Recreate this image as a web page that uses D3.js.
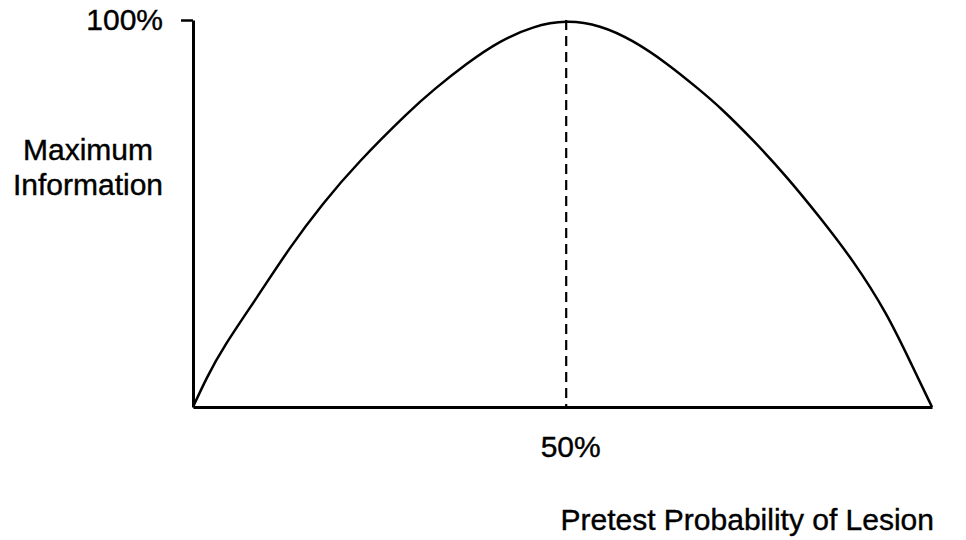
<!DOCTYPE html>
<html>
<head>
<meta charset="utf-8">
<script src="https://cdn.jsdelivr.net/npm/d3@7"></script>
<style>
  html, body { margin: 0; padding: 0; background: #fff; }
  svg text { font-family: "Liberation Sans", Arial, Helvetica, sans-serif; fill: #000; stroke: #000; stroke-width: 0.4; }
</style>
</head>
<body>
<div id="chart"></div>
<script>
// pretest probability (%) and information (% of maximum)
const pretest = [0, 1.9, 4.1, 8.7, 13.1, 17.6, 22.2, 29.4, 32.5, 37.1, 41.5, 46.0, 50.5,
                 55.1, 59.5, 64.1, 68.6, 71.3, 75.8, 80.4, 84.8, 89.3, 93.9, 97.4, 100];
const information = [0, 7.8, 15.5, 28.4, 41.3, 52.7, 63.0, 76.7, 81.9, 88.9, 94.6, 98.4, 100,
                     98.7, 94.8, 88.9, 81.9, 77.5, 69.0, 59.4, 49.1, 38.0, 24.3, 10.3, 0];
const yTicks = [100];
const yTickLabels = ["100%"];
const xTickLabels = ["50%"];
const yTitle = ["Maximum", "Information"];
const xTitle = "Pretest Probability of Lesion";

const width = 966, height = 540;
const fontSize = 30;

const svg = d3.select("#chart")
  .append("svg")
    .attr("width", width)
    .attr("height", height);

const x = d3.scaleLinear().domain([0, 100]).range([193, 932]);
const y = d3.scaleLinear().domain([0, 100]).range([407, 20]);

const data = pretest.map((p, i) => ({ x: p, y: information[i] }));
const peak = data[d3.maxIndex(data, d => d.y)];

// dashed line under the peak
svg.append("line")
  .attr("x1", x(peak.x)).attr("x2", x(peak.x))
  .attr("y1", y(peak.y)).attr("y2", y(0))
  .attr("stroke", "#000")
  .attr("stroke-width", 2.2)
  .attr("stroke-dasharray", "10,6");

// y axis with the single 100% tick
const yAxis = svg.append("g")
  .attr("transform", `translate(${x(0)},0)`)
  .call(d3.axisLeft(y)
    .tickValues(yTicks)
    .tickFormat((d, i) => yTickLabels[i])
    .tickSize(12)
    .tickSizeOuter(0)
    .tickPadding(18));

// x axis, label under the peak
const xAxis = svg.append("g")
  .attr("transform", `translate(0,${y(0)})`)
  .call(d3.axisBottom(x)
    .tickValues([peak.x])
    .tickFormat((d, i) => xTickLabels[i])
    .tickSize(0)
    .tickSizeOuter(0)
    .tickPadding(29));

[yAxis, xAxis].forEach(g => {
  g.select(".domain").attr("stroke", "#000").attr("stroke-width", 3);
  g.selectAll(".tick line").attr("stroke", "#000").attr("stroke-width", 2.5);
  g.selectAll(".tick text")
    .attr("font-size", fontSize)
    .attr("font-family", "Liberation Sans, Arial, sans-serif")
    .attr("fill", "#000");
});
xAxis.selectAll(".tick text").attr("dx", 4);

// the curve
const line = d3.line()
  .x(d => x(d.x))
  .y(d => y(d.y))
  .curve(d3.curveBasis);

svg.append("path")
  .datum(data)
  .attr("d", line)
  .attr("fill", "none")
  .attr("stroke", "#000")
  .attr("stroke-width", 2.5);

// axis titles
svg.append("text")
  .attr("x", 88)
  .attr("y", 160)
  .attr("text-anchor", "middle")
  .attr("font-size", fontSize)
  .selectAll("tspan")
  .data(yTitle)
  .join("tspan")
    .attr("x", 88)
    .attr("dy", (d, i) => i ? 35 : 0)
    .text(d => d);

svg.append("text")
  .attr("x", 934)
  .attr("y", 530)
  .attr("text-anchor", "end")
  .attr("font-size", fontSize)
  .text(xTitle);
</script>
</body>
</html>
